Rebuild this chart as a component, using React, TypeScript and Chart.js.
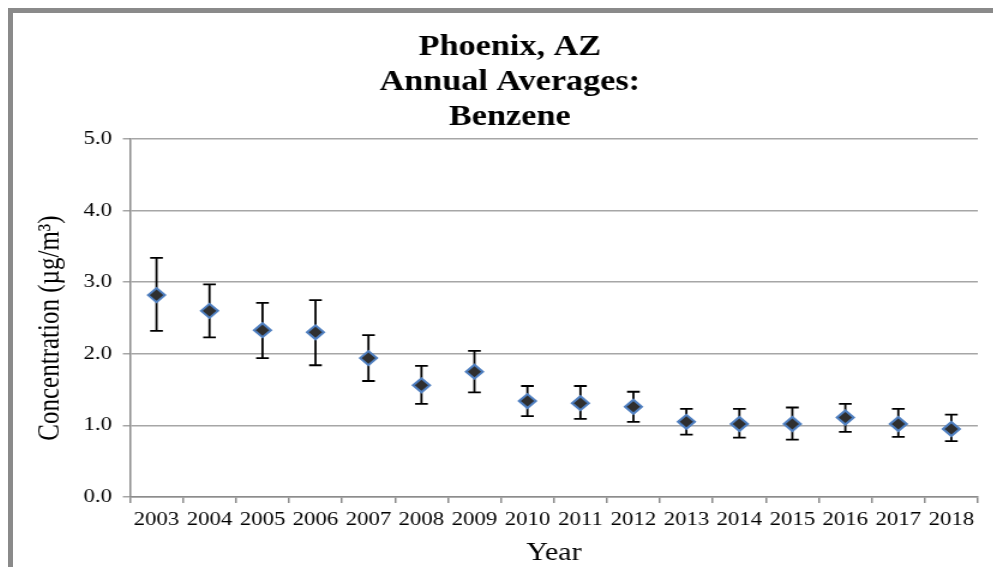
import { useEffect, useRef } from 'react';
import { Chart, registerables } from 'chart.js';

Chart.register(...registerables);

const years = ['2003', '2004', '2005', '2006', '2007', '2008', '2009', '2010', '2011', '2012', '2013', '2014', '2015', '2016', '2017', '2018'];
const means = [2.82, 2.60, 2.33, 2.30, 1.94, 1.56, 1.75, 1.34, 1.31, 1.26, 1.05, 1.02, 1.02, 1.11, 1.02, 0.95];
const upper = [3.34, 2.97, 2.71, 2.75, 2.26, 1.83, 2.04, 1.55, 1.55, 1.47, 1.23, 1.23, 1.25, 1.30, 1.23, 1.15];
const lower = [2.32, 2.23, 1.94, 1.84, 1.62, 1.30, 1.46, 1.13, 1.09, 1.05, 0.87, 0.83, 0.80, 0.91, 0.84, 0.78];
const titleLines = ['Phoenix, AZ', 'Annual Averages:', 'Benzene'];
const yTitle = 'Concentration (µg/m³)';
const xTitle = 'Year';

const SX = 1.2;
const CW = Math.round(980 / SX);
const CH = 554;
const FAMILY = '"Liberation Serif", "Times New Roman", serif';

export default function App() {
  const ref = useRef<HTMLCanvasElement>(null);

  useEffect(() => {
    const canvas = ref.current;
    if (!canvas) return;

    const errorBars = {
      id: 'errorBars',
      beforeDatasetsDraw(chart: any) {
        const { ctx, scales } = chart;
        const x = scales.x;
        const y = scales.y;
        const cap = 5.3;
        ctx.save();
        ctx.strokeStyle = '#000';
        ctx.lineWidth = 1.8;
        years.forEach((_, i) => {
          const px = x.getPixelForValue(i);
          const yt = y.getPixelForValue(upper[i]);
          const yb = y.getPixelForValue(lower[i]);
          ctx.beginPath();
          ctx.moveTo(px, yt);
          ctx.lineTo(px, yb);
          ctx.moveTo(px - cap, yt);
          ctx.lineTo(px + cap, yt);
          ctx.moveTo(px - cap, yb);
          ctx.lineTo(px + cap, yb);
          ctx.stroke();
        });
        ctx.restore();
      },
    };

    const yTitlePlugin = {
      id: 'yTitle',
      afterDraw(chart: any) {
        const { ctx, chartArea } = chart;
        ctx.save();
        ctx.translate(31.5, (chartArea.top + chartArea.bottom) / 2 + 10);
        ctx.rotate(-Math.PI / 2);
        ctx.font = `25px ${FAMILY}`;
        ctx.fillStyle = '#000';
        ctx.textAlign = 'center';
        ctx.textBaseline = 'middle';
        ctx.fillText(yTitle, 0, 0);
        ctx.restore();
      },
    };

    const chart = new Chart(canvas, {
      type: 'line',
      data: {
        labels: years,
        datasets: [
          {
            data: means,
            showLine: false,
            pointStyle: 'rectRot',
            pointRadius: 7,
            pointBorderWidth: 2,
            pointBackgroundColor: '#2f2f2f',
            pointBorderColor: '#4f7fc0',
          },
        ],
      },
      options: {
        responsive: false,
        maintainAspectRatio: false,
        animation: false,
        layout: { padding: { left: 24, right: 13, top: 0, bottom: 0 } },
        plugins: {
          legend: { display: false },
          tooltip: { enabled: false },
          title: {
            display: true,
            text: titleLines,
            color: '#000',
            font: { family: FAMILY, size: 28.5, weight: 'bold', lineHeight: 35 / 28.5 },
            padding: { top: 17.5, bottom: 3.5 },
          },
        },
        scales: {
          x: {
            type: 'category',
            offset: true,
            grid: {
              offset: true,
              drawOnChartArea: false,
              drawTicks: true,
              tickLength: 6,
              color: '#8c8c8c',
              lineWidth: 1.5,
            },
            border: { display: true, color: '#8c8c8c', width: 1.5 },
            ticks: {
              color: '#000',
              font: { family: FAMILY, size: 19 },
              padding: 6,
              maxRotation: 0,
              autoSkip: false,
            },
            title: {
              display: true,
              text: xTitle,
              color: '#000',
              font: { family: FAMILY, size: 25, lineHeight: 1 },
              padding: { top: 0, bottom: 1.5 },
            },
            afterFit: (s: any) => {
              s.height = 70;
            },
          },
          y: {
            min: 0,
            max: 5,
            ticks: {
              stepSize: 1,
              callback: (v: any) => Number(v).toFixed(1),
              color: '#000',
              font: { family: FAMILY, size: 19 },
              padding: 9,
            },
            grid: { color: '#a6a6a6', lineWidth: 1.5, tickLength: 6, drawTicks: true },
            border: { display: true, color: '#8c8c8c', width: 1.5 },
            afterFit: (s: any) => {
              s.width = 73.5;
            },
          },
        },
      } as any,
      plugins: [errorBars, yTitlePlugin],
    });

    return () => {
      chart.destroy();
    };
  }, []);

  return (
    <div
      style={{
        position: 'fixed',
        left: 8,
        top: 8,
        width: 1010,
        height: 580,
        borderLeft: '5px solid #8a8a8a',
        borderTop: '5px solid #8a8a8a',
        background: '#fff',
        overflow: 'hidden',
      }}
    >
      <canvas
        ref={ref}
        width={CW}
        height={CH}
        style={{
          display: 'block',
          width: CW,
          height: CH,
          transform: `scaleX(${SX})`,
          transformOrigin: '0 0',
        }}
      />
    </div>
  );
}
